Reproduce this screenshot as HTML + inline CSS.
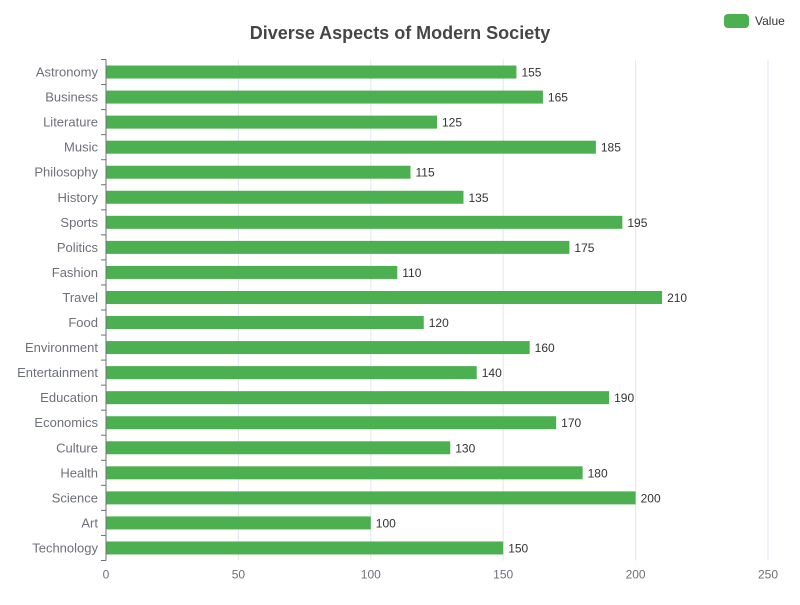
<!DOCTYPE html>
<html><head><meta charset="utf-8"><style>
body{margin:0;background:#fff;}
svg{font-family:"Liberation Sans","DejaVu Sans",sans-serif;}
</style></head><body>
<svg id="chart" width="800" height="600" xmlns="http://www.w3.org/2000/svg">
<text x="400" y="39" text-anchor="middle" font-size="18" font-weight="bold" fill="#464646">Diverse Aspects of Modern Society</text>
<g>
<rect x="724" y="14" width="25" height="14" rx="4" fill="#4caf50"/>
<text x="755" y="25" font-size="12" fill="#333">Value</text>
</g>
<g id="grid"></g><g id="bars"></g><g id="axes"></g>
</svg>
<script>
const categories=["Astronomy","Business","Literature","Music","Philosophy","History","Sports","Politics","Fashion","Travel","Food","Environment","Entertainment","Education","Economics","Culture","Health","Science","Art","Technology"];
const values=[155,165,125,185,115,135,195,175,110,210,120,160,140,190,170,130,180,200,100,150];
const xTicks=[0,50,100,150,200,250];
const NS="http://www.w3.org/2000/svg";
const L=106,R=768,T=59.5,B=560.5,XMAX=250;
const x=v=>L+(R-L)*v/XMAX;
const band=(B-T)/categories.length;
const yc=i=>T+band*(i+0.5);
function mk(tag,attrs,parent,txt){const e=document.createElementNS(NS,tag);for(const k in attrs)e.setAttribute(k,attrs[k]);if(txt!==undefined)e.textContent=txt;parent.appendChild(e);return e;}
const grid=document.getElementById('grid'),bars=document.getElementById('bars'),axes=document.getElementById('axes');
xTicks.forEach(t=>{
 if(t>0){const g=mk('line',{x1:x(t),x2:x(t),y1:T,y2:B,stroke:'#e0e6f1','stroke-width':1},grid);
 
 }
 const lb=mk('text',{x:x(t),y:B+18,'text-anchor':'middle','font-size':12,fill:'#6e7079'},axes,String(t));
 
 
});
categories.forEach((c,i)=>{
 const r=mk('rect',{x:L,y:yc(i)-6.5,width:x(values[i])-L,height:13,fill:'#4caf50'},bars);
 
 
 const v=mk('text',{x:x(values[i])+5,y:yc(i)+4.5,'font-size':12,fill:'#333'},bars,String(values[i]));
 
 
 const lb=mk('text',{x:L-8,y:yc(i)+4.5,'text-anchor':'end','font-size':13,fill:'#6e7079'},axes,c);
 
 
});
for(let i=0;i<=categories.length;i++){
 const tk=mk('line',{x1:L-5,x2:L,y1:T+band*i,y2:T+band*i,stroke:'#6e7079'},axes);
 
 
}
const ax=mk('line',{x1:L,x2:L,y1:T,y2:B,stroke:'#6e7079'},axes);


</script>
</body></html>
